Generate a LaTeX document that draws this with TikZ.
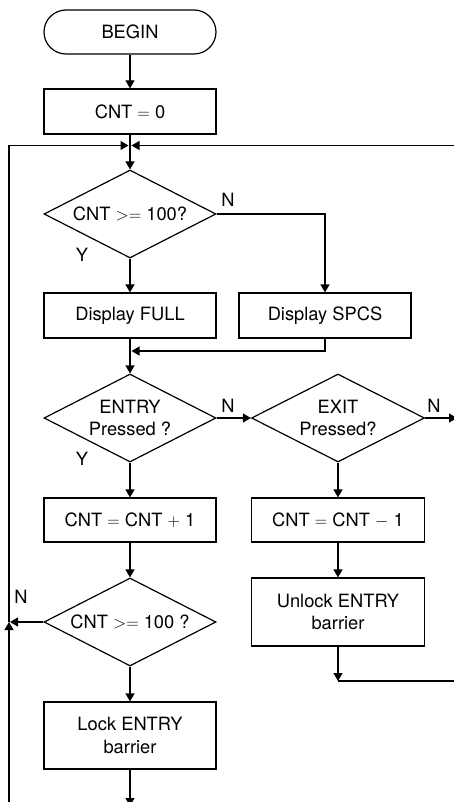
\documentclass[tikz,border=0pt]{standalone}
\usepackage{fontspec}
\setmainfont{TeX Gyre Heros}
\usetikzlibrary{shapes.geometric,arrows.meta,calc}
\begin{document}
\begin{tikzpicture}[x=1pt,y=-1pt, line width=1.2pt,
  font=\fontsize{18.3}{22.5}\selectfont,
  box/.style={draw, rectangle, minimum width=172pt, inner sep=0pt, align=center},
  decision/.style={draw, diamond, aspect=1.95, minimum width=172pt, minimum height=88pt, inner sep=0pt, align=center},
  term/.style={draw, rectangle, rounded corners=22pt, minimum width=172pt, minimum height=44pt, inner sep=0pt},
  arr/.style={-{Triangle[length=8pt,width=9pt]}},
  lab/.style={inner sep=0pt}]
\useasboundingbox (0,0) rectangle (453,802);

% nodes
\node[term] (begin) at (130,32) {BEGIN};
\node[box, minimum height=45pt] (init) at (130,111.5) {CNT $=$ 0};
\node[decision] (chk1) at (130,214) {CNT $>=$ 100?};
\node[box, minimum height=45pt] (full) at (130,315.5) {Display FULL};
\node[box, minimum height=45pt] (spcs) at (325,315.5) {Display SPCS};
\node[decision] (entry) at (130,418) {ENTRY\\Pressed ?};
\node[decision, minimum width=173pt] (exit) at (338,418) {EXIT\\Pressed?};
\node[box, minimum height=44pt] (inc) at (130,520) {CNT $=$ CNT $+$ 1};
\node[box, minimum width=173pt, minimum height=44pt] (decr) at (338,520) {CNT $=$ CNT $-$ 1};
\node[decision] (chk2) at (130,622) {CNT $>=$ 100 ?};
\node[box, minimum width=173pt, minimum height=68pt] (unlock) at (338,612) {Unlock ENTRY\\barrier};
\node[box, minimum height=67pt] (lock) at (130,735.5) {Lock ENTRY\\barrier};

% coordinates
\coordinate (jt) at (130,145.5);
\coordinate (merge) at (130,351);
\coordinate (ljoin) at (9,622);
\coordinate (lbot) at (9,806);
\coordinate (rtop) at (458,145.5);
\coordinate (rexit) at (457,418);
\coordinate (lockend) at (130,806);
\coordinate (ucorner) at (338,681);
\coordinate (rbot) at (458,681);

% connectors
\draw[arr] (begin) -- (init);
\draw[arr] (init) -- (chk1);
\draw[arr] (lbot) -- (ljoin);
\draw[arr] (ljoin) |- ($(jt)+(-1.5,0)$);
\draw[arr] (rtop) -- ($(jt)+(1.5,0)$);
\draw[arr] (chk1.east) -| (spcs.north);
\draw[arr] (chk1) -- (full);
\draw[arr] (full) -- (entry);
\draw[arr] (spcs.south) |- ($(merge)+(1.5,0)$);
\draw[arr] (entry.east) -- (exit.west);
\draw[arr] (exit.east) -- (rexit);
\draw[arr] (entry) -- (inc);
\draw[arr] (exit) -- (decr);
\draw[arr] (inc) -- (chk2);
\draw[arr] (decr) -- (unlock);
\draw[arr] (chk2.west) -- ($(ljoin)+(1,0)$);
\draw[arr] (chk2) -- (lock);
\draw[arr] (lock) -- (lockend);
\draw[arr] (unlock) -- (ucorner);
\draw (ucorner) -- (rbot);

% labels
\node[lab] (n1) at (228,200) {N};
\node[lab] (y1) at (82,255) {Y};
\node[lab] (n2) at (228,406) {N};
\node[lab] (n3) at (434,406) {N};
\node[lab] (y2) at (82,459) {Y};
\node[lab] (n4) at (21,597) {N};
\end{tikzpicture}
\end{document}
